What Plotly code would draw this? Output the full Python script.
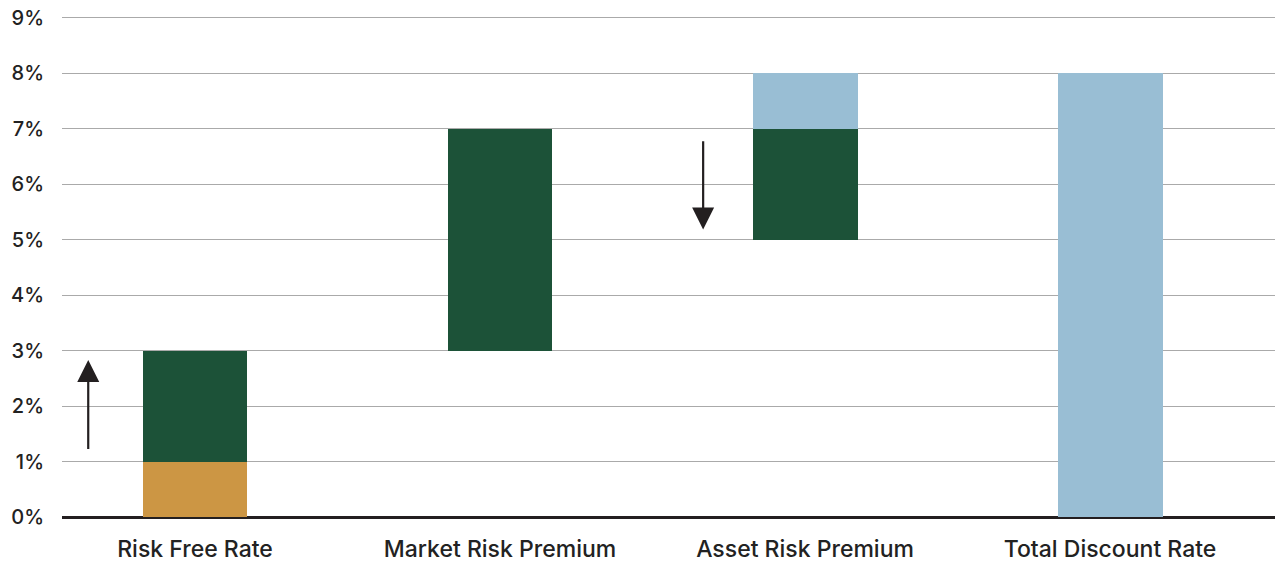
import plotly.graph_objects as go

categories = ["Risk Free Rate", "Market Risk Premium", "Asset Risk Premium", "Total Discount Rate"]
base_values = [0, 3, 5, 0]
gold_values = [1, 0, 0, 0]
green_values = [2, 4, 2, 0]
blue_values = [0, 0, 1, 8]
y_ticks = [0, 1, 2, 3, 4, 5, 6, 7, 8, 9]
y_tick_labels = [f"{v}%" for v in y_ticks]

# arrows: (x position in category units, tail y, head y)
up_arrow = (-0.35, 1.2, 2.83)
down_arrow = (1.666, 6.8, 5.18)

GREEN = "#1c5238"
GOLD = "#cc9644"
BLUE = "#99bed4"
FONT = "Inter"

fig = go.Figure()
fig.add_trace(go.Bar(x=categories, y=base_values, marker_color="rgba(0,0,0,0)",
                     marker_line_width=0, hoverinfo="skip"))
fig.add_trace(go.Bar(x=categories, y=gold_values, marker_color=GOLD, marker_line_width=0))
fig.add_trace(go.Bar(x=categories, y=green_values, marker_color=GREEN, marker_line_width=0))
fig.add_trace(go.Bar(x=categories, y=blue_values, marker_color=BLUE, marker_line_width=0))

for xa, y0, y1 in [up_arrow, down_arrow]:
    fig.add_annotation(x=xa, y=y1, ax=xa, ay=y0, xref="x", yref="y", axref="x", ayref="y",
                       text="", showarrow=True, arrowhead=2, arrowsize=2.0, arrowwidth=2.2,
                       arrowcolor="#231f20")

# page body adds an 8px offset, so the figure is 8px smaller with trimmed margins
fig.update_layout(
    width=1275, height=557,
    margin=dict(l=54, r=0, t=8, b=48),
    barmode="stack",
    bargap=1 - 0.344,
    showlegend=False,
    plot_bgcolor="white",
    paper_bgcolor="white",
    font=dict(family=FONT, size=20, color="#222222", weight=500),
    xaxis=dict(
        range=[-0.436, 3.567],
        showgrid=False, zeroline=False,
        showline=False, automargin=False,
        ticks="", ticklabelstandoff=16,
        tickfont=dict(family=FONT, size=23, color="#222222", weight=500),
    ),
    yaxis=dict(
        range=[0, 9.03], automargin=False,
        tickvals=y_ticks, ticktext=y_tick_labels,
        ticklabeloverflow="allow",
        showgrid=True, gridcolor="#aaaaaa", gridwidth=1,
        zeroline=True, zerolinecolor="#231f20", zerolinewidth=2.5,
        ticks="", ticklabelstandoff=17,
        tickfont=dict(family=FONT, size=20, color="#222222", weight=500),
    ),
)

fig.write_html("out.html")
